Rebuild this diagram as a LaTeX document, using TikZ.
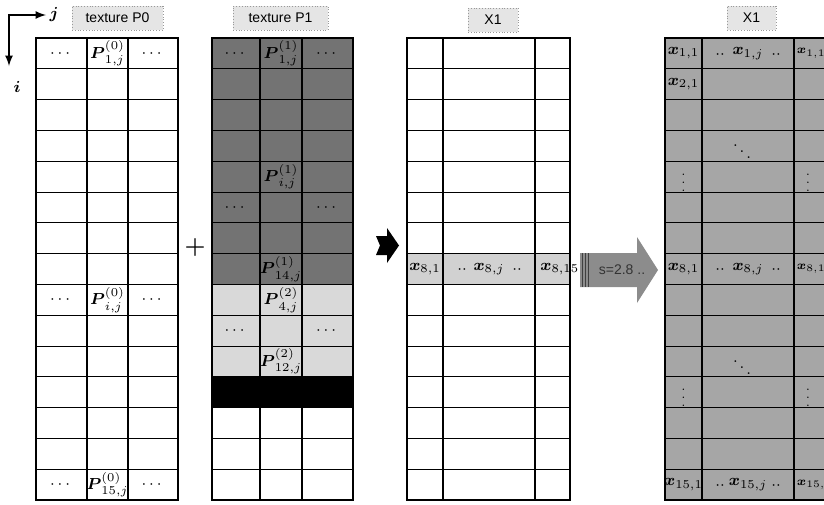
\documentclass[tikz,border=0pt]{standalone}
\usepackage{amsmath}
\usepackage{fontspec}
\setsansfont{Liberation Sans}
\tikzset{
	rowline/.style={line width=0.45pt},
	colline/.style={line width=1.2pt},
	gridframe/.style={line width=1.4pt},
	titlebox/.style={draw=black!40, densely dotted, fill=black!10, font=\sffamily\fontsize{7}{8}\selectfont, minimum height=12pt, inner sep=1pt},
	cell/.style={font=\fontsize{8}{9}\selectfont, inner sep=0pt},
	dotpair/.style={font=\fontsize{8}{9}\selectfont, inner sep=0pt},
}

\begin{document}
\begin{tikzpicture}[x=0.5pt, y=-0.5pt]
		\useasboundingbox (0,0) rectangle (824,504);
		\clip (0,0) rectangle (824,504);
		\fill [black!55] (212,38) rectangle (353,284.4);
		\fill [black!15] (212,284.4) rectangle (353,376.8);
		\fill [black] (212,376.8) rectangle (353,407.6);
		\fill [black!18] (407,253.6) rectangle (570,284.4);
		\fill [black!35] (665,38) rectangle (830,500);
		\foreach \xa/\xb/\xc/\xd in {36/87/128/178, 212/260/302/353, 407/443/535/570, 665/702/794/830} {
			\foreach \k in {1,...,14}
				\draw [rowline] (\xa,38+30.8*\k) -- (\xd,38+30.8*\k);
			\draw [colline] (\xb,38) -- (\xb,500) (\xc,38) -- (\xc,500);
			\draw [gridframe] (\xa,38) rectangle (\xd,500);
		}
		\node [titlebox, minimum width=45.5pt] (tp0) at (117.5,18) {texture P0};
		\node [titlebox, minimum width=47.5pt] (tp1) at (280.5,18) {texture P1};
		\node [titlebox, minimum width=25pt] (tx1) at (493,20) {X1};
		\node [titlebox, minimum width=24.5pt] (tx2) at (751.5,18) {X1};
		\coordinate (iend) at (9,66);
		\coordinate (jend) at (46,15);
		\draw [latex-latex, line width=0.8pt] (iend) |- (jend);
		\node [cell] (jlab) at (54,14) {$\boldsymbol{j}$};
		\node [cell] (ilab) at (17,87) {$\boldsymbol{i}$};
		\foreach \y/\r in {53.4/1, 299.8/i, 484.6/15} {
			\node [cell] (p0l\r) at (61.5,\y) {$\cdots$};
			\node [cell] (p0m\r) at (107.5,\y) {$\boldsymbol{P}^{(0)}_{\r,j}$};
			\node [cell] (p0r\r) at (153,\y) {$\cdots$};
		}
		\foreach \y/\r in {53.4/1, 176.6/i, 269/14}
			\node [cell] (p1m\r) at (281,\y) {$\boldsymbol{P}^{(1)}_{\r,j}$};
		\foreach \y/\r in {299.8/4, 361.4/12}
			\node [cell] (p2m\r) at (281,\y) {$\boldsymbol{P}^{(2)}_{\r,j}$};
		\foreach \y/\n in {53.4/1, 207.4/6, 330.6/10} {
			\node [cell] (p1l\n) at (236,\y) {$\cdots$};
			\node [cell] (p1r\n) at (327.5,\y) {$\cdots$};
		}
		\node [font=\large] (plus) at (195,247) {$\boldsymbol{+}$};
		\fill (376,236) -- (387,236) -- (387,228) -- (399,245.5) -- (387,263) -- (387,255) -- (376,255) -- (380,245.5) -- cycle;
		\node [cell] (m1) at (425,269) {$\boldsymbol{x}_{8,1}$};
		\node [dotpair] (m2a) at (462,270) {${\cdot}{\cdot}$};
		\node [cell] (m2) at (489,269) {$\boldsymbol{x}_{8,j}$};
		\node [dotpair] (m2b) at (517,270) {${\cdot}{\cdot}$};
		\node [cell, anchor=west] (m3) at (540,269) {$\boldsymbol{x}_{8,15}$};
		\fill [black!45] (580,253) -- (637,253) -- (637,237) -- (658,270) -- (637,303) -- (637,287) -- (580,287) -- cycle;
		\foreach \x in {582,585,588}
			\draw [black!75, line width=0.5pt] (\x,253) -- (\x,287);
		\node [font=\sffamily\fontsize{7}{8}\selectfont, text=black!80] (sval) at (622,270) {s=2.8 ..};
		\foreach \y/\r in {53.4/1, 269/8, 484.6/15} {
			\node [cell] (xl\r) at (683.5,\y) {$\boldsymbol{x}_{\r,1}$};
			\node [dotpair] (xa\r) at (720,\y+1) {${\cdot}{\cdot}$};
			\node [cell] (xm\r) at (748,\y) {$\boldsymbol{x}_{\r,j}$};
			\node [dotpair] (xb\r) at (776,\y+1) {${\cdot}{\cdot}$};
			\node [cell, anchor=west, font=\fontsize{6.5}{8}\selectfont] (xr\r) at (796.5,\y) {$\boldsymbol{x}_{\r,15}$};
		}
		\node [cell] (xl2) at (683.5,84.2) {$\boldsymbol{x}_{2,1}$};
		\foreach \y/\n in {145.8/a, 361.4/b}
			\node [cell] (dd\n) at (742,\y) {$\ddots$};
		\foreach \y/\n in {176.6/a, 392.2/b} {
			\node [cell, font=\fontsize{6}{7}\selectfont] (vl\n) at (683.5,\y) {$\vdots$};
			\node [cell, font=\fontsize{6}{7}\selectfont] (vr\n) at (808,\y) {$\vdots$};
		}
	\end{tikzpicture}
\end{document}
